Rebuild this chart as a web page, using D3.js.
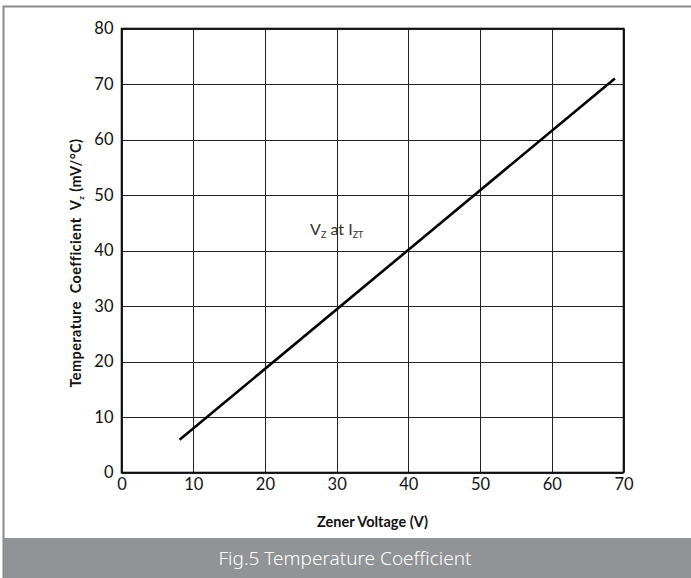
<!DOCTYPE html>
<html>
<head>
<meta charset="utf-8">
<script src="https://cdn.jsdelivr.net/npm/d3@7"></script>
<style>
  body { margin: 0; background: #fff; }
  svg text { font-family: Lato, "Noto Sans", sans-serif; }
</style>
</head>
<body>
<div id="chart"></div>
<script>
// zener voltage (V) vs temperature coefficient (mV/°C)
var zenerVoltage = [8.1, 68.8];
var tempCoeff = [5.9, 71];
var xTicks = [0, 10, 20, 30, 40, 50, 60, 70];
var yTicks = [0, 10, 20, 30, 40, 50, 60, 70, 80];

var width = 691, height = 578;
var margin = {left: 121.5, top: 28.5, right: 623.5, bottom: 472.5};

var svg = d3.select("#chart").append("svg")
  .attr("width", width)
  .attr("height", height);

// outer frame
svg.append("path")
  .attr("d", "M" + (width + 5) + ",6.5 H3.5 V" + (height + 5))
  .attr("fill", "none")
  .attr("stroke", "#8a8a8a")
  .attr("stroke-width", 2);

var x = d3.scaleLinear().domain([0, 70]).range([margin.left, margin.right]);
var y = d3.scaleLinear().domain([0, 80]).range([margin.bottom, margin.top]);

var grid = svg.append("g");
grid.selectAll(".vx")
  .data(xTicks)
  .enter().append("line")
  .attr("x1", function(d){ return Math.round(x(d)) + 0.5; })
  .attr("x2", function(d){ return Math.round(x(d)) + 0.5; })
  .attr("y1", y(80)).attr("y2", y(0))
  .attr("stroke", "#222").attr("stroke-width", 1);
grid.selectAll(".hy")
  .data(yTicks)
  .enter().append("line")
  .attr("y1", function(d){ return Math.round(y(d)) + 0.5; })
  .attr("y2", function(d){ return Math.round(y(d)) + 0.5; })
  .attr("x1", x(0)).attr("x2", x(70))
  .attr("stroke", "#222").attr("stroke-width", 1);

// plot border
svg.append("rect")
  .attr("x", x(0)).attr("y", y(80))
  .attr("width", x(70) - x(0)).attr("height", y(0) - y(80))
  .attr("fill", "none").attr("stroke", "#111").attr("stroke-width", 1.6);

// axes (labels only)
var xAxis = svg.append("g")
  .attr("transform", "translate(0," + y(0) + ")")
  .call(d3.axisBottom(x).tickValues(xTicks).tickSize(0).tickPadding(6));
var yAxis = svg.append("g")
  .attr("transform", "translate(" + x(0) + ",0)")
  .call(d3.axisLeft(y).tickValues(yTicks).tickSize(0).tickPadding(8));
[xAxis, yAxis].forEach(function(a){
  a.select(".domain").remove();
  a.attr("font-family", null).attr("font-size", null);
  a.selectAll("text")
    .style("font-family", "Lato, 'Noto Sans', sans-serif")
    .style("font-size", "16.5px")
    .attr("fill", "#111");
});

// data line
var line = d3.line()
  .x(function(d){ return x(d[0]); })
  .y(function(d){ return y(d[1]); });
svg.append("path")
  .datum(d3.zip(zenerVoltage, tempCoeff))
  .attr("d", line)
  .attr("fill", "none")
  .attr("stroke", "#000")
  .attr("stroke-width", 2.6);

// annotation
var ann = svg.append("text")
  .attr("x", x(26.3)).attr("y", y(42.8))
  .attr("fill", "#333")
  .style("font-size", "16px");
ann.append("tspan").text("V");
ann.append("tspan").attr("dy", 3).style("font-size", "9px").text("Z");
ann.append("tspan").attr("dy", -3).text(" at I");
ann.append("tspan").attr("dy", 3).style("font-size", "9px").text("ZT");

// axis titles
svg.append("text")
  .attr("x", (x(0) + x(70)) / 2).attr("y", 527)
  .attr("text-anchor", "middle")
  .style("font-size", "14.5px").style("font-weight", "bold")
  .attr("fill", "#111")
  .text("Zener Voltage (V)");

var yt = svg.append("text")
  .attr("transform", "translate(81,263) rotate(-90)")
  .attr("text-anchor", "middle")
  .style("font-size", "14.5px").style("font-weight", "bold")
  .style("letter-spacing", "0.4px")
  .style("white-space", "pre")
  .attr("fill", "#111");
yt.append("tspan").text("Temperature  Coefficient  V");
yt.append("tspan").attr("dy", 3).style("font-size", "8px").text("z");
yt.append("tspan").attr("dy", -3).text(" (mV/°C)");

// caption bar
svg.append("rect")
  .attr("x", 4).attr("y", 538)
  .attr("width", width).attr("height", height - 538)
  .attr("fill", "#929396");
svg.append("text")
  .attr("x", 345).attr("y", 565)
  .attr("text-anchor", "middle")
  .attr("fill", "#fff")
  .style("font-family", "'Noto Sans', sans-serif")
  .style("font-size", "19px").style("font-weight", 300)
  .text("Fig.5 Temperature Coefficient");
</script>
</body>
</html>
